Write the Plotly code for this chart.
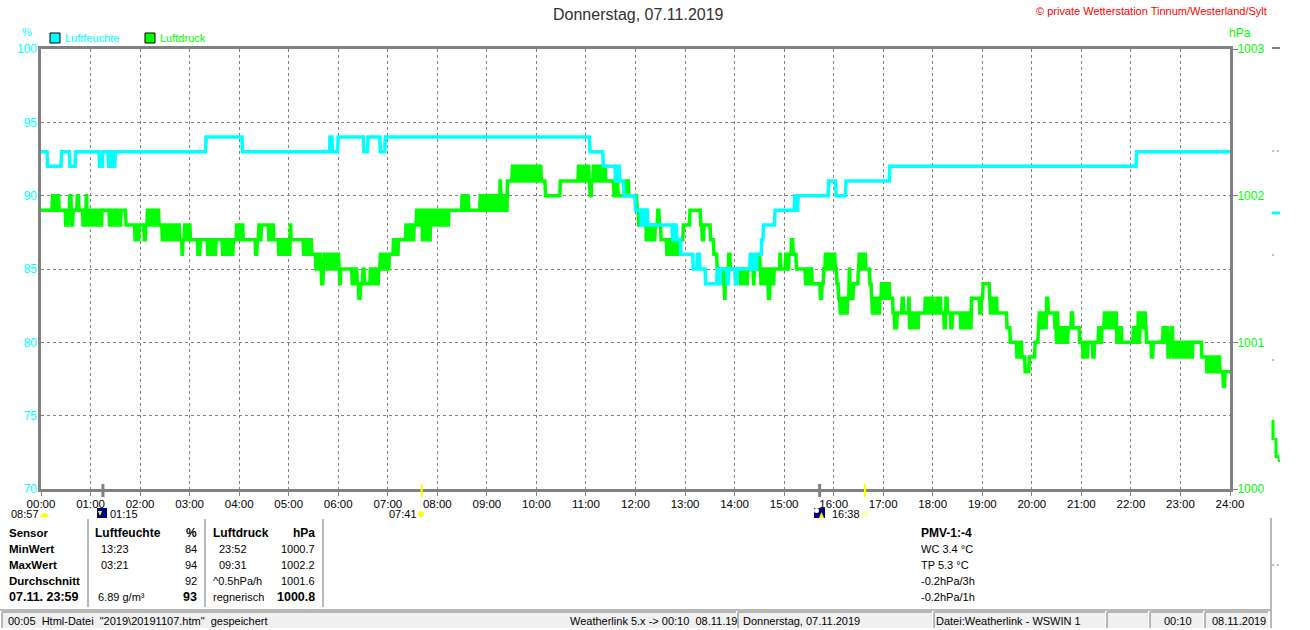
import plotly.graph_objects as go

hour_ticks = list(range(0, 1441, 60))
hour_labels = ["%02d:00" % h for h in range(25)]

# humidity, step series (minute of day, %)
hum_minute = [0, 8, 25, 35, 42, 71, 75, 82, 85, 87,
              90, 200, 244, 350, 353, 356, 360, 391,
              396, 411, 417, 665, 681, 696, 699, 701, 706, 720,
              727, 729, 731, 733, 735, 737, 765, 768, 770, 775,
              790, 795, 798, 805, 819, 821, 823, 831, 833, 841,
              843, 845, 859, 861, 863, 865, 867, 873, 875, 889,
              913, 915, 917, 954, 963, 975, 1028, 1327, 1440]
hum_pct = [93, 92, 93, 92, 93, 92, 93, 92, 93, 92,
           93, 94, 93, 94, 93, 93, 94, 93,
           94, 93, 94, 93, 92, 91, 92, 91, 90, 89,
           88, 89, 88, 89, 88, 88, 87, 88, 87, 86,
           85, 86, 85, 84, 85, 84, 85, 84, 85, 84,
           85, 85, 86, 85, 86, 85, 86, 87, 88, 89,
           90, 89, 90, 91, 90, 91, 92, 93, 93]

# pressure, step series (minute of day, hPa above 1000)
pres_minute = [0, 14, 16, 19, 22, 30, 33, 35, 37, 39,
               44, 46, 51, 53, 55, 56, 58, 59, 60, 61,
               62, 63, 65, 66, 68, 69, 71, 72, 74, 83,
               85, 86, 88, 89, 91, 92, 94, 95, 97, 103,
               114, 116, 117, 119, 125, 127, 129, 130, 131, 132,
               133, 134, 135, 136, 137, 138, 139, 140, 141, 143,
               147, 149, 150, 152, 153, 155, 156, 158, 159, 161,
               162, 164, 165, 167, 168, 171, 172, 174, 175, 177,
               178, 180, 181, 190, 193, 202, 203, 205, 206, 208,
               209, 211, 212, 220, 221, 223, 224, 226, 227, 229,
               230, 231, 233, 237, 239, 240, 242, 243, 245, 260,
               262, 264, 265, 267, 276, 277, 279, 280, 282, 288,
               289, 291, 292, 294, 295, 297, 298, 300, 302, 303,
               318, 320, 321, 323, 325, 326, 328, 333, 334, 336,
               337, 339, 340, 342, 343, 347, 348, 349, 350, 351,
               352, 353, 354, 355, 356, 357, 358, 361, 362, 363,
               377, 378, 379, 380, 381, 382, 383, 385, 387, 390,
               392, 399, 401, 402, 404, 405, 407, 409, 411, 412,
               413, 414, 415, 416, 417, 418, 419, 421, 422, 427,
               428, 429, 430, 431, 432, 433, 442, 443, 445, 446,
               448, 450, 452, 455, 456, 457, 458, 459, 460, 461,
               462, 463, 464, 465, 466, 467, 468, 469, 470, 472,
               474, 476, 478, 480, 481, 484, 485, 486, 487, 488,
               489, 490, 491, 492, 493, 494, 510, 511, 512, 513,
               514, 515, 516, 518, 532, 533, 534, 535, 536, 537,
               538, 540, 541, 542, 543, 544, 545, 546, 548, 549,
               550, 551, 552, 553, 554, 555, 556, 557, 558, 559,
               560, 561, 562, 563, 564, 565, 571, 572, 573, 574,
               576, 577, 578, 579, 580, 582, 583, 584, 585, 586,
               588, 590, 591, 592, 593, 594, 596, 597, 598, 599,
               600, 602, 603, 604, 605, 606, 608, 611, 629, 651,
               652, 653, 654, 655, 656, 657, 658, 659, 660, 661,
               662, 663, 664, 665, 667, 669, 670, 671, 672, 673,
               674, 675, 676, 677, 679, 680, 681, 682, 684, 694,
               695, 696, 698, 699, 701, 708, 712, 722, 724, 726,
               727, 728, 729, 731, 733, 734, 735, 736, 737, 738,
               739, 740, 741, 742, 743, 744, 747, 749, 751, 758,
               759, 760, 761, 762, 763, 765, 767, 768, 769, 770,
               772, 775, 778, 786, 799, 801, 803, 805, 811, 815,
               819, 827, 828, 829, 831, 833, 835, 845, 847, 848,
               849, 850, 851, 852, 853, 854, 855, 856, 857, 863,
               864, 869, 871, 872, 873, 874, 875, 876, 877, 878,
               879, 881, 883, 884, 885, 886, 887, 888, 889, 895,
               896, 901, 902, 903, 904, 905, 906, 907, 909, 911,
               913, 915, 926, 927, 928, 929, 930, 932, 934, 944,
               946, 948, 950, 951, 952, 953, 954, 956, 958, 960,
               961, 962, 964, 966, 968, 969, 970, 971, 972, 973,
               974, 975, 976, 977, 979, 980, 984, 988, 990, 991,
               992, 993, 994, 995, 996, 997, 999, 1004, 1006, 1007,
               1008, 1009, 1010, 1011, 1012, 1013, 1014, 1015, 1016, 1018,
               1019, 1020, 1021, 1022, 1023, 1024, 1025, 1026, 1028, 1032,
               1034, 1037, 1039, 1043, 1045, 1051, 1052, 1053, 1054, 1055,
               1056, 1057, 1058, 1059, 1060, 1061, 1062, 1063, 1069, 1071,
               1072, 1073, 1074, 1075, 1076, 1077, 1078, 1079, 1081, 1085,
               1086, 1087, 1088, 1089, 1090, 1091, 1094, 1096, 1098, 1102,
               1104, 1114, 1115, 1116, 1117, 1118, 1119, 1120, 1121, 1122,
               1123, 1124, 1125, 1126, 1127, 1135, 1137, 1139, 1141, 1149,
               1150, 1151, 1152, 1153, 1154, 1155, 1156, 1157, 1158, 1168,
               1170, 1174, 1182, 1183, 1184, 1185, 1186, 1187, 1188, 1189,
               1192, 1197, 1204, 1208, 1209, 1210, 1211, 1212, 1213, 1214,
               1216, 1217, 1218, 1220, 1224, 1228, 1230, 1231, 1232, 1233,
               1234, 1235, 1236, 1237, 1238, 1239, 1240, 1241, 1242, 1244,
               1248, 1250, 1256, 1258, 1262, 1263, 1264, 1265, 1266, 1268,
               1274, 1276, 1278, 1281, 1283, 1285, 1288, 1289, 1290, 1291,
               1292, 1293, 1294, 1295, 1296, 1297, 1298, 1299, 1300, 1301,
               1302, 1303, 1304, 1305, 1307, 1309, 1323, 1324, 1325, 1326,
               1327, 1328, 1329, 1330, 1331, 1333, 1334, 1335, 1336, 1337,
               1338, 1339, 1343, 1345, 1347, 1357, 1359, 1360, 1361, 1363,
               1365, 1367, 1369, 1371, 1372, 1373, 1374, 1375, 1376, 1377,
               1378, 1379, 1380, 1381, 1382, 1383, 1384, 1385, 1386, 1387,
               1388, 1389, 1390, 1391, 1392, 1393, 1395, 1404, 1406, 1408,
               1410, 1412, 1413, 1414, 1415, 1416, 1417, 1418, 1420, 1422,
               1424, 1426, 1427, 1428, 1430, 1432, 1434, 1440]
pres_over = [1.9, 2.0, 1.9, 2.0, 1.9, 1.8, 1.9, 2.0, 1.8, 1.9,
             2.0, 1.9, 1.8, 1.9, 2.0, 1.8, 1.9, 1.8, 1.9, 1.8,
             1.9, 1.8, 1.9, 1.8, 1.9, 1.8, 1.9, 1.8, 1.9, 1.8,
             1.9, 1.8, 1.9, 1.8, 1.9, 1.8, 1.9, 1.8, 1.9, 1.8,
             1.7, 1.8, 1.7, 1.8, 1.7, 1.8, 1.9, 1.8, 1.9, 1.8,
             1.9, 1.8, 1.9, 1.8, 1.9, 1.8, 1.9, 1.8, 1.9, 1.8,
             1.7, 1.8, 1.7, 1.8, 1.7, 1.8, 1.7, 1.8, 1.7, 1.8,
             1.7, 1.8, 1.7, 1.8, 1.7, 1.6, 1.7, 1.8, 1.7, 1.8,
             1.7, 1.8, 1.7, 1.6, 1.7, 1.6, 1.7, 1.6, 1.7, 1.6,
             1.7, 1.6, 1.7, 1.6, 1.7, 1.6, 1.7, 1.6, 1.7, 1.6,
             1.7, 1.6, 1.7, 1.8, 1.7, 1.8, 1.7, 1.8, 1.7, 1.6,
             1.7, 1.8, 1.7, 1.8, 1.7, 1.8, 1.7, 1.8, 1.7, 1.6,
             1.7, 1.6, 1.7, 1.6, 1.7, 1.6, 1.7, 1.6, 1.8, 1.7,
             1.6, 1.7, 1.6, 1.7, 1.6, 1.7, 1.6, 1.5, 1.6, 1.5,
             1.6, 1.5, 1.4, 1.5, 1.6, 1.5, 1.6, 1.5, 1.6, 1.5,
             1.6, 1.5, 1.6, 1.5, 1.6, 1.5, 1.6, 1.5, 1.4, 1.5,
             1.4, 1.5, 1.4, 1.5, 1.4, 1.5, 1.4, 1.3, 1.4, 1.5,
             1.4, 1.5, 1.4, 1.5, 1.4, 1.5, 1.4, 1.5, 1.6, 1.5,
             1.6, 1.5, 1.6, 1.5, 1.6, 1.5, 1.6, 1.5, 1.6, 1.7,
             1.6, 1.7, 1.6, 1.7, 1.6, 1.7, 1.8, 1.7, 1.8, 1.7,
             1.8, 1.7, 1.8, 1.9, 1.8, 1.9, 1.8, 1.9, 1.8, 1.9,
             1.7, 1.9, 1.7, 1.9, 1.7, 1.9, 1.7, 1.9, 1.7, 1.9,
             1.8, 1.9, 1.8, 1.9, 1.8, 1.9, 1.8, 1.9, 1.8, 1.9,
             1.8, 1.9, 1.8, 1.9, 1.8, 1.9, 2.0, 1.9, 2.0, 1.9,
             2.0, 1.9, 2.0, 1.9, 2.0, 1.9, 2.0, 1.9, 2.0, 1.9,
             2.0, 1.9, 2.0, 1.9, 2.0, 1.9, 2.0, 1.9, 2.0, 1.9,
             2.0, 1.9, 2.0, 1.9, 2.0, 1.9, 2.1, 2.0, 1.9, 2.0,
             1.9, 2.0, 1.9, 2.0, 1.9, 2.1, 2.2, 2.1, 2.2, 2.1,
             2.2, 2.1, 2.2, 2.1, 2.2, 2.1, 2.2, 2.1, 2.2, 2.1,
             2.2, 2.1, 2.2, 2.1, 2.2, 2.1, 2.2, 2.1, 2.2, 2.1,
             2.2, 2.1, 2.2, 2.1, 2.2, 2.1, 2.1, 2.0, 2.1, 2.2,
             2.1, 2.2, 2.1, 2.2, 2.1, 2.2, 2.1, 2.2, 2.1, 2.2,
             2.1, 2.2, 2.1, 2.0, 2.1, 2.2, 2.1, 2.2, 2.1, 2.2,
             2.1, 2.2, 2.1, 2.2, 2.1, 2.2, 2.1, 2.2, 2.1, 2.0,
             2.1, 2.0, 2.1, 2.0, 2.0, 2.1, 2.0, 1.9, 1.8, 1.9,
             1.8, 1.9, 1.8, 1.9, 1.7, 1.8, 1.7, 1.8, 1.7, 1.8,
             1.7, 1.8, 1.7, 1.8, 1.7, 1.8, 1.9, 1.8, 1.7, 1.6,
             1.7, 1.6, 1.7, 1.6, 1.7, 1.6, 1.7, 1.6, 1.7, 1.6,
             1.7, 1.7, 1.8, 1.9, 1.8, 1.7, 1.8, 1.8, 1.7, 1.6,
             1.5, 1.4, 1.3, 1.5, 1.5, 1.6, 1.5, 1.5, 1.4, 1.5,
             1.4, 1.5, 1.4, 1.5, 1.4, 1.5, 1.4, 1.5, 1.5, 1.4,
             1.5, 1.6, 1.5, 1.4, 1.5, 1.4, 1.5, 1.4, 1.5, 1.4,
             1.5, 1.3, 1.4, 1.5, 1.4, 1.5, 1.4, 1.5, 1.5, 1.6,
             1.5, 1.5, 1.6, 1.5, 1.6, 1.5, 1.6, 1.6, 1.7, 1.6,
             1.6, 1.5, 1.4, 1.5, 1.4, 1.5, 1.4, 1.5, 1.4, 1.3,
             1.4, 1.5, 1.6, 1.5, 1.6, 1.5, 1.6, 1.5, 1.6, 1.5,
             1.6, 1.5, 1.4, 1.3, 1.2, 1.3, 1.2, 1.3, 1.2, 1.3,
             1.2, 1.3, 1.2, 1.3, 1.5, 1.3, 1.4, 1.4, 1.5, 1.6,
             1.5, 1.6, 1.5, 1.6, 1.5, 1.6, 1.5, 1.4, 1.3, 1.2,
             1.3, 1.2, 1.3, 1.2, 1.3, 1.2, 1.3, 1.2, 1.3, 1.4,
             1.3, 1.4, 1.3, 1.4, 1.3, 1.4, 1.3, 1.4, 1.3, 1.2,
             1.1, 1.2, 1.2, 1.3, 1.2, 1.3, 1.1, 1.2, 1.1, 1.2,
             1.1, 1.2, 1.1, 1.2, 1.1, 1.2, 1.1, 1.2, 1.2, 1.3,
             1.2, 1.3, 1.2, 1.3, 1.2, 1.3, 1.2, 1.3, 1.2, 1.3,
             1.2, 1.3, 1.2, 1.3, 1.2, 1.2, 1.1, 1.3, 1.2, 1.1,
             1.2, 1.1, 1.2, 1.1, 1.2, 1.1, 1.2, 1.1, 1.2, 1.1,
             1.2, 1.1, 1.2, 1.1, 1.3, 1.3, 1.2, 1.3, 1.4, 1.3,
             1.2, 1.3, 1.2, 1.3, 1.2, 1.3, 1.2, 1.3, 1.2, 1.2,
             1.1, 1.0, 0.9, 1.0, 0.9, 1.0, 0.9, 1.0, 0.9, 0.9,
             0.8, 0.9, 1.0, 1.1, 1.2, 1.1, 1.2, 1.1, 1.2, 1.1,
             1.2, 1.1, 1.3, 1.2, 1.2, 1.1, 1.0, 1.2, 1.0, 1.1,
             1.0, 1.1, 1.0, 1.1, 1.0, 1.1, 1.0, 1.1, 1.0, 1.1,
             1.2, 1.1, 1.1, 1.0, 0.9, 1.0, 0.9, 1.0, 0.9, 1.0,
             0.9, 1.0, 1.0, 1.1, 1.0, 1.1, 1.2, 1.1, 1.2, 1.1,
             1.2, 1.1, 1.2, 1.1, 1.2, 1.1, 1.2, 1.1, 1.2, 1.1,
             1.2, 1.0, 1.1, 1.0, 1.1, 1.0, 1.1, 1.0, 1.1, 1.0,
             1.1, 1.0, 1.2, 1.0, 1.1, 1.2, 1.1, 1.2, 1.1, 1.2,
             1.1, 1.0, 1.0, 0.9, 1.0, 1.0, 1.1, 1.0, 1.1, 1.1,
             0.9, 1.0, 1.1, 0.9, 1.0, 0.9, 1.0, 0.9, 1.0, 0.9,
             1.0, 0.9, 1.0, 0.9, 1.0, 0.9, 1.0, 0.9, 1.0, 0.9,
             1.0, 0.9, 1.0, 0.9, 1.0, 0.9, 1.0, 1.0, 0.9, 0.9,
             0.9, 0.8, 0.9, 0.8, 0.9, 0.8, 0.9, 0.8, 0.9, 0.8,
             0.9, 0.8, 0.9, 0.8, 0.8, 0.7, 0.8, 0.8]
pres_hpa = [round(1000 + v, 1) for v in pres_over]

sun_events = [461, 998]
moon_events = [75, 943]

CYAN = "#00FFFF"
GREEN = "#00FF00"
GREY = "#808080"
LIGHT = "#A0A0A0"
FONT = "Liberation Sans"

# plot frame in window pixels, the extras below are placed with these
L, R, T, B = 41, 1230, 49, 489


def px(x):
    return (x - L) / (R - L)


def py(y):
    return (B - y) / (B - T)


def slanted(minutes, values):
    # each reading holds until the next one, the change itself takes a moment
    xs, ys = [minutes[0]], [values[0]]
    for i in range(1, len(minutes)):
        xs += [minutes[i] - 0.7, minutes[i]]
        ys += [values[i - 1], values[i]]
    return xs, ys


fig = go.Figure()
# pressure is the base axis so humidity is drawn on top of it
x_p, y_p = slanted(pres_minute, pres_hpa)
x_h, y_h = slanted(hum_minute, hum_pct)
fig.add_trace(go.Scatter(x=x_p, y=y_p, name="Luftdruck", yaxis="y", mode="lines",
                         line=dict(color=GREEN, width=3.5)))
fig.add_trace(go.Scatter(x=x_h, y=y_h, name="Luftfeuchte", yaxis="y2", mode="lines",
                         line=dict(color=CYAN, width=3.5)))

annotations = []


def text(x, y, s, color="black", size=11, anchor="left", bold=False):
    if bold:
        s = "<b>" + s + "</b>"
    annotations.append(dict(x=px(x), y=py(y), xref="paper", yref="paper", text=s, showarrow=False,
                            xanchor=anchor, yanchor="middle", borderpad=0,
                            font=dict(family=FONT, size=size, color=color)))


text(638, 15, "Donnerstag, 07.11.2019", color="#303030", size=16, anchor="center")
text(1268, 11, "© private Wetterstation Tinnum/Westerland/Sylt", color="#FF0000", size=11, anchor="right")
text(27, 32, "%", color=CYAN, size=11, anchor="center")
text(1240, 33, "hPa", color=GREEN, size=12, anchor="center")
text(64, 38, "Luftfeuchte", color=CYAN)
text(159, 38, "Luftdruck", color=GREEN)

text(10, 514, "08:57")
text(109, 514, "01:15")
text(388, 514, "07:41")
text(831, 514, "16:38")

row_y = [533, 549, 565, 581, 597]
for y, s in zip(row_y, ["Sensor", "MinWert", "MaxWert", "Durchschnitt"]):
    text(8, y, s, bold=True, size=11.5)
text(8, row_y[4], "07.11. 23:59", bold=True, size=12.5)

text(94, row_y[0], "Luftfeuchte", bold=True, size=12)
text(198, row_y[0], "%", bold=True, anchor="right", size=12)
text(100, row_y[1], "13:23")
text(100, row_y[2], "03:21")
text(198, row_y[1], "84", anchor="right")
text(198, row_y[2], "94", anchor="right")
text(198, row_y[3], "92", anchor="right")
text(97, row_y[4], "6.89 g/m³")
text(198, row_y[4], "93", bold=True, size=12.5, anchor="right")

text(212, row_y[0], "Luftdruck", bold=True, size=12)
text(316, row_y[0], "hPa", bold=True, anchor="right", size=12)
text(218, row_y[1], "23:52")
text(218, row_y[2], "09:31")
text(212, row_y[3], "^0.5hPa/h")
text(212, row_y[4], "regnerisch")
text(316, row_y[1], "1000.7", anchor="right")
text(316, row_y[2], "1002.2", anchor="right")
text(316, row_y[3], "1001.6", anchor="right")
text(316, row_y[4], "1000.8", bold=True, size=12.5, anchor="right")

text(920, row_y[0], "PMV-1:-4", bold=True, size=12)
for y, s in zip(row_y[1:], ["WC 3.4 °C", "TP 5.3 °C", "-0.2hPa/3h", "-0.2hPa/1h"]):
    text(920, y, s)

text(7, 621, '00:05  Html-Datei  "2019\\20191107.htm"  gespeichert')
text(569, 621, "Weatherlink 5.x -> 00:10  08.11.19")
text(742, 621, "Donnerstag, 07.11.2019")
text(935, 621, "Datei:Weatherlink - WSWIN 1")
text(1163, 621, "00:10")
text(1211, 621, "08.11.2019")

shapes = []


def rect(x0, y0, x1, y1, fill, line=None, w=1):
    shapes.append(dict(type="rect", xref="paper", yref="paper", x0=px(x0), x1=px(x1), y0=py(y0), y1=py(y1),
                       fillcolor=fill, line=dict(color=line or fill, width=w if line else 0), layer="above"))


def dot(x0, y0, x1, y1, fill):
    shapes.append(dict(type="circle", xref="paper", yref="paper", x0=px(x0), x1=px(x1), y0=py(y0), y1=py(y1),
                       fillcolor=fill, line=dict(width=0), layer="above"))


def poly(points, fill):
    d = "M" + " L".join("%.5f,%.5f" % (px(a), py(b)) for a, b in points) + " Z"
    shapes.append(dict(type="path", xref="paper", yref="paper", path=d,
                       fillcolor=fill, line=dict(width=0), layer="above"))


def seg(x0, y0, x1, y1, color, w=1):
    shapes.append(dict(type="line", xref="paper", yref="paper", x0=px(x0), x1=px(x1), y0=py(y0), y1=py(y1),
                       line=dict(color=color, width=w), layer="above"))


rect(50, 33, 60, 43, CYAN, "black", 1)
rect(145, 33, 155, 43, GREEN, "black", 1)

# sun and moon events on the time axis
for m in sun_events:
    shapes.append(dict(type="line", xref="x", yref="paper", x0=m, x1=m, y0=py(484), y1=py(497),
                       line=dict(color="#FFFF00", width=2), layer="above"))
for m in moon_events:
    shapes.append(dict(type="line", xref="x", yref="paper", x0=m, x1=m, y0=py(484), y1=py(497),
                       line=dict(color=GREY, width=3), layer="above"))

# small icons
poly([(40, 517), (41, 515), (43, 513), (46, 513), (48, 515), (49, 517)], "#FFFF00")
rect(97, 508, 107, 518, "#000080")
poly([(98, 511), (102, 511), (100, 516)], "#FFFF00")
dot(418, 511, 424, 517, "#FFFF00")
rect(814, 508, 825, 518, "#000080")
dot(814, 508, 819, 513, "white")
poly([(819, 518), (824, 518), (821.5, 512)], "#FFFF00")
rect(863, 512, 867, 516, "white", "#FFFF66", 1)

# table rules
for x in [88, 205, 323]:
    seg(x, 519, x, 607, LIGHT, 1.5)
seg(1271, 518, 1271, 628, LIGHT, 1.5)
seg(0, 610, 1271, 610, LIGHT, 1.5)

# status bar cells
for x0, x1 in [(2, 736), (738, 932), (934, 1105), (1107, 1148), (1150, 1203), (1205, 1268)]:
    rect(x0, 612, x1, 628, "#F0F0F0")
    seg(x0, 612, x1, 612, LIGHT, 1.5)
    seg(x0, 612, x0, 628, LIGHT, 1.5)

# leftovers right of the chart
seg(1272, 48, 1280, 48, GREY, 2)
seg(1272, 151, 1274, 151, GREY, 1)
seg(1277, 151, 1279, 151, GREY, 1)
seg(1272, 255, 1274, 255, GREY, 1)
seg(1272, 360, 1274, 360, GREY, 1)
seg(1272, 213, 1280, 213, CYAN, 3)
seg(1273, 420, 1273, 440, GREEN, 3)
seg(1276, 438, 1276, 458, GREEN, 3)
seg(1278, 455, 1279, 462, GREEN, 2)
seg(1272, 565, 1274, 565, GREY, 1)
seg(1277, 565, 1279, 565, GREY, 1)

fig.update_layout(
    width=1310, height=630, margin=dict(l=L, r=1310 - R, t=T, b=630 - B),
    paper_bgcolor="white", plot_bgcolor="white", showlegend=False,
    font=dict(family=FONT, size=11, color="black"),
    annotations=annotations, shapes=shapes,
    xaxis=dict(range=[0, 1440], tickvals=hour_ticks, ticktext=hour_labels, tickangle=0,
               showgrid=True, gridcolor=GREY, griddash="3px,3px", gridwidth=1, zeroline=False,
               showline=True, linecolor=GREY, linewidth=3, mirror=True,
               ticks="outside", ticklen=4, tickcolor=GREY, ticklabelstandoff=-2,
               tickfont=dict(family=FONT, size=11.5, color="black")),
    yaxis=dict(range=[1000, 1003], side="right", tickvals=[1000, 1001, 1002, 1003], showgrid=False, zeroline=False,
               showline=True, linecolor=GREY, linewidth=3, mirror=True,
               ticks="outside", ticklen=5, tickcolor=GREY, ticklabelstandoff=-3,
               tickfont=dict(family=FONT, size=12, color=GREEN)),
    yaxis2=dict(range=[70, 100], overlaying="y", side="left", tickvals=[70, 75, 80, 85, 90, 95, 100],
                showgrid=True, gridcolor=GREY, griddash="3px,3px", gridwidth=1, zeroline=False, showline=False,
                ticks="", ticklabelstandoff=3, tickfont=dict(family=FONT, size=12, color=CYAN)),
)

fig.write_html("out.html", config={"displayModeBar": False},
               post_script="document.body.style.margin='0';document.body.style.overflow='hidden';")
